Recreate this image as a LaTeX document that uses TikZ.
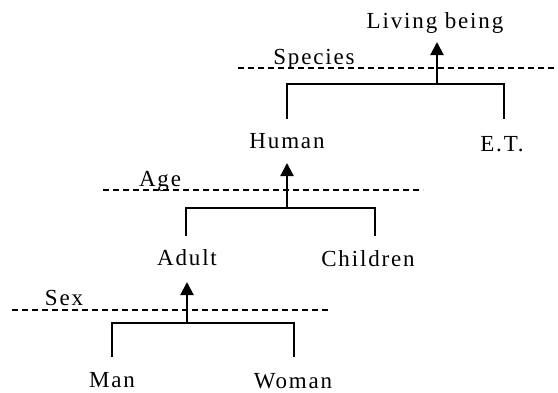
\documentclass[tikz,border=0pt]{standalone}
\usepackage{fontspec}
\setmainfont{Liberation Serif}[LetterSpace=8]
\usetikzlibrary{arrows.meta}
\begin{document}
\begin{tikzpicture}[x=1pt,y=-1pt,
  word/.style={font=\fontsize{23}{27}\selectfont, inner sep=0pt, anchor=base},
  level/.style={line width=1.3pt, dash pattern=on 6pt off 4pt},
  branch/.style={line width=2pt, line cap=butt, line join=miter},
  up/.style={line width=2pt, -{Triangle[width=13pt,length=13pt]}}]
\useasboundingbox (0,0) rectangle (558,392);

% class labels
\node[word] (living)   at (435,28)  {Living being};
\node[word] (human)    at (287,148) {Human};
\node[word] (et)       at (502,151) {E.T.};
\node[word] (adult)    at (187,265) {Adult};
\node[word] (children) at (368,266) {Children};
\node[word] (man)      at (112,387) {Man};
\node[word] (woman)    at (293,388) {Woman};

% criterion labels and their dashed levels
\node[word] (species) at (314,64)  {Species};
\node[word] (age)     at (160,186) {Age};
\node[word] (sex)     at (64,305)  {Sex};
\coordinate (speciesL) at (238,68);  \coordinate (speciesR) at (558,68);
\coordinate (ageL)     at (103,190); \coordinate (ageR)     at (423,190);
\coordinate (sexL)     at (12,310);  \coordinate (sexR)     at (330,310);
\draw[level] (speciesL) -- (speciesR);
\draw[level] (ageL) -- (ageR);
\draw[level] (sexL) -- (sexR);

% bracket ends, junctions and arrow tips
\coordinate (humanTop) at (287,119); \coordinate (etTop) at (504,119);
\coordinate (j1) at (437,84); \coordinate (livingIn) at (437,42);
\coordinate (adultTop) at (186,236); \coordinate (childrenTop) at (375,236);
\coordinate (j2) at (287,208); \coordinate (humanIn) at (287,163);
\coordinate (manTop) at (112,357); \coordinate (womanTop) at (294,357);
\coordinate (j3) at (187,323); \coordinate (adultIn) at (187,282);

% brackets
\draw[branch] (humanTop) |- (j1) -| (etTop);
\draw[branch] (adultTop) |- (j2) -| (childrenTop);
\draw[branch] (manTop) |- (j3) -| (womanTop);

% generalisation arrows
\draw[up] (j1) -- (livingIn);
\draw[up] (j2) -- (humanIn);
\draw[up] (j3) -- (adultIn);
\end{tikzpicture}
\end{document}
